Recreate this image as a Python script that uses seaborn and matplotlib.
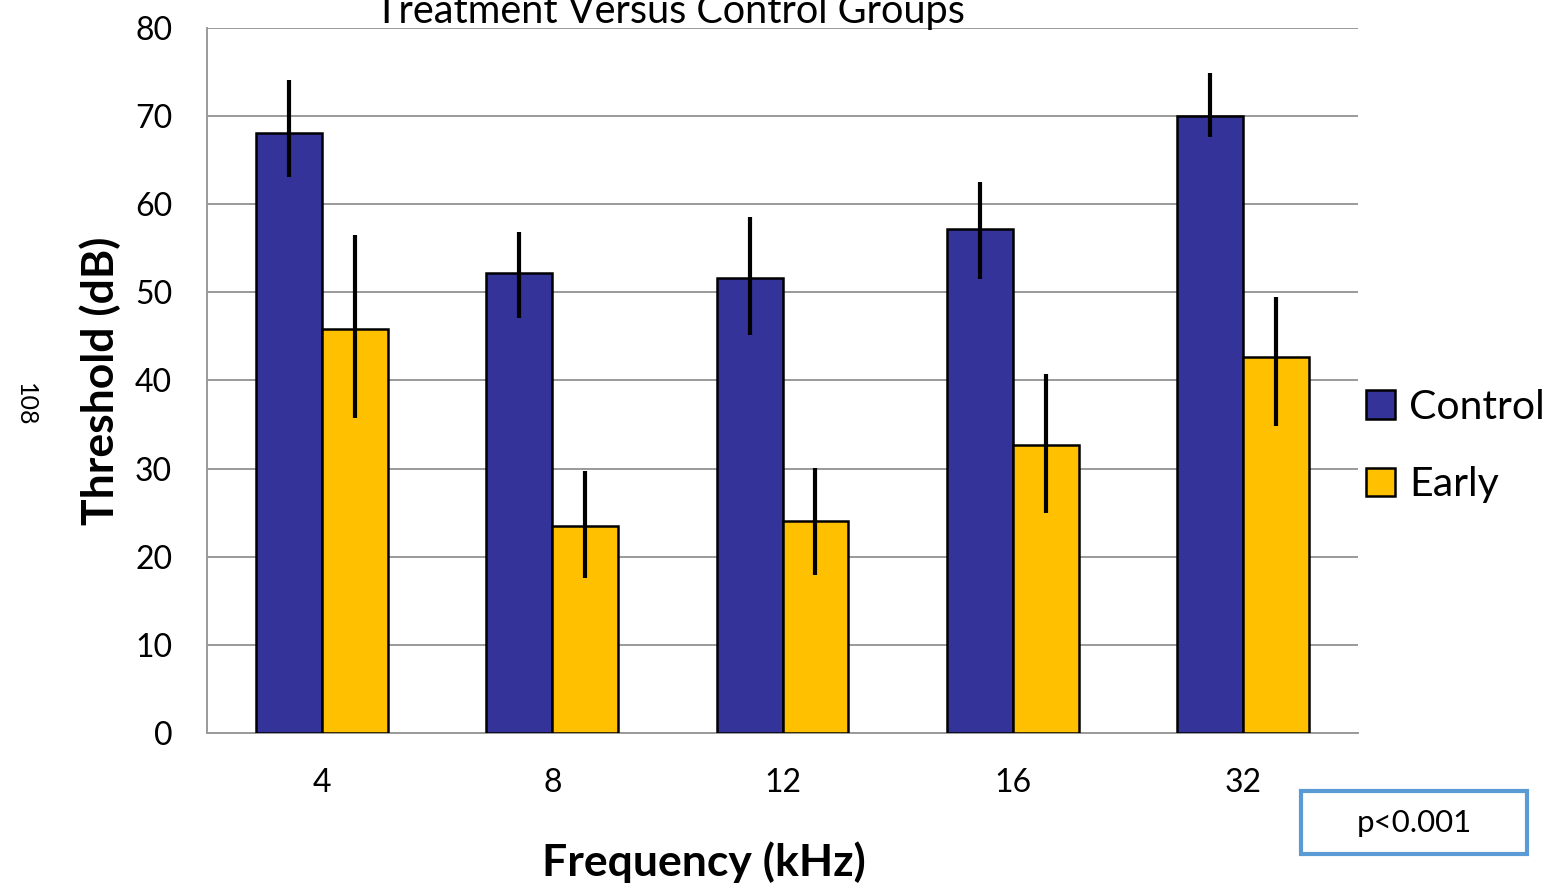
import matplotlib
matplotlib.use("Agg")
import matplotlib.pyplot as plt
import seaborn as sns
import pandas as pd
import numpy as np
from matplotlib.patches import Rectangle, Patch

# ---- data ----
frequencies = ["4", "8", "12", "16", "32"]
groups = ["Control", "Early"]
control_vals = [68.1, 52.2, 51.6, 57.2, 70.0]
early_vals = [45.8, 23.5, 24.1, 32.7, 42.7]
control_err_low = [5.0, 5.1, 6.4, 5.7, 2.4]
control_err_high = [6.0, 4.7, 7.0, 5.3, 4.9]
early_err_low = [10.1, 5.9, 6.2, 7.7, 7.9]
early_err_high = [10.7, 6.2, 6.0, 8.0, 6.8]
colors = ["#333399", "#FFC000"]

df = pd.DataFrame({
    "Frequency": frequencies * 2,
    "Group": ["Control"] * 5 + ["Early"] * 5,
    "Threshold": control_vals + early_vals,
})

sns.set_theme(style="white")
plt.rcParams["font.family"] = ["Lato", "DejaVu Sans"]
plt.rcParams["text.color"] = "black"
plt.rcParams["axes.labelcolor"] = "black"
plt.rcParams["xtick.labelcolor"] = "black"
plt.rcParams["ytick.labelcolor"] = "black"

fig = plt.figure(figsize=(15.56, 8.89), dpi=100)
ax = fig.add_axes([0.133, 0.1755, 0.7398, 0.793])

sns.barplot(data=df, x="Frequency", y="Threshold", hue="Group",
            order=frequencies, hue_order=groups, palette=colors, saturation=1,
            width=0.573, edgecolor="black", linewidth=1.8,
            errorbar=None, legend=False, ax=ax, zorder=3)

# error bars from bar positions
err_low = {"Control": control_err_low, "Early": early_err_low}
err_high = {"Control": control_err_high, "Early": early_err_high}
for cont, g in zip(ax.containers, groups):
    xs = [p.get_x() + p.get_width() / 2 for p in cont.patches]
    ys = [p.get_height() for p in cont.patches]
    ax.errorbar(xs, ys, yerr=[err_low[g], err_high[g]], fmt="none",
                ecolor="black", elinewidth=3, capsize=0, zorder=4)

ax.set_ylim(0, 80)
ax.set_xlim(-0.5, 4.5)
ax.set_yticks(np.arange(0, 81, 10))
ax.yaxis.grid(True, color="#9a9a9a", linewidth=1.4, zorder=0)
ax.set_axisbelow(True)
ax.set_xticks(range(5))
ax.set_xticklabels(frequencies)
ax.set_xticks(np.arange(-0.5, 5.0, 1.0), minor=True)
ax.tick_params(axis="x", which="major", length=0, pad=25, labelsize=23)
ax.tick_params(axis="x", which="minor", length=12, width=1.4, color="#9a9a9a", direction="out")
ax.tick_params(axis="y", length=12, width=1.4, color="#9a9a9a", direction="out", labelsize=23, pad=13)
for s in ["top", "right"]:
    ax.spines[s].set_visible(False)
for s in ["left", "bottom"]:
    ax.spines[s].set_color("#9a9a9a")
    ax.spines[s].set_linewidth(1.4)

ax.set_xlabel("Frequency (kHz)", fontsize=32, fontweight="bold")
ax.xaxis.set_label_coords((704 - 207) / 1151, -(862 - 733) / 705, transform=ax.transAxes)
ax.xaxis.label.set_va("center")
ax.set_ylabel("Threshold (dB)", fontsize=32, fontweight="bold")
ax.yaxis.set_label_coords(-(207 - 100) / 1151, (733 - 381) / 705, transform=ax.transAxes)
ax.yaxis.label.set_va("center")

fig.text(670 / 1556, 1 - 12 / 889, "Treatment Versus Control Groups", fontsize=28.5,
         ha="center", va="center")
fig.text(25 / 1556, 1 - 405 / 889, "108", fontsize=18, rotation=-90, ha="center", va="center")

handles = [Patch(facecolor=c, edgecolor="black", linewidth=1.8) for c in colors]
fig.legend(handles, groups, loc="center left", bbox_to_anchor=(1366 / 1556, 1 - 446 / 889),
           frameon=False, fontsize=29.5, handlelength=0.7, handleheight=0.7,
           handletextpad=0.35, labelspacing=1.0, borderaxespad=0, borderpad=0)

# p-value box
fig.patches.append(Rectangle((1301 / 1556, 1 - 854 / 889), 226 / 1556, 63 / 889,
                             transform=fig.transFigure, facecolor="white",
                             edgecolor="#5B9BD5", linewidth=3))
fig.text(1414 / 1556, 1 - 823 / 889, "p<0.001", fontsize=22.5, ha="center", va="center")

fig.savefig("out.png", dpi=100)
